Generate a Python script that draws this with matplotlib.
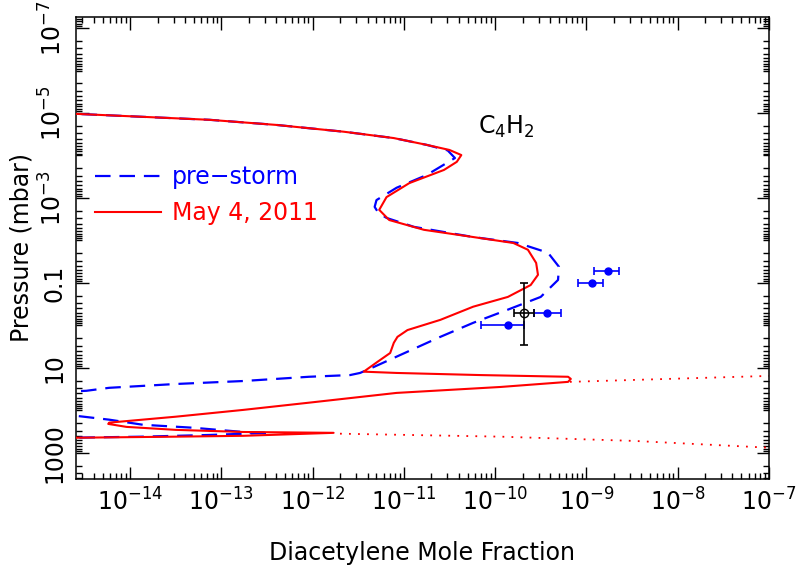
import numpy as np
import matplotlib
matplotlib.use("Agg")
import matplotlib.pyplot as plt
from matplotlib.ticker import LogLocator, NullFormatter, FixedLocator, FixedFormatter

RED, BLUE = "#ff0000", "#0000ff"

# ---- model profiles, log10(mole fraction) vs log10(pressure / mbar) ----------
may_logx = [-14.8, -13.86, -13.13, -12.40, -11.66, -11.11, -10.75, -10.50, -10.37, -10.42,
            -10.56, -10.94, -11.19, -11.27, -11.16, -10.78, -10.24, -9.80, -9.64, -9.55,
            -9.53, -9.61, -9.86, -10.24, -10.60, -10.96, -11.07, -11.11, -11.15, -11.29,
            -11.44, -11.08, -10.16, -9.20, -9.17, -9.20, -9.94, -11.08, -12.04, -12.76,
            -13.50, -14.23, -14.24, -14.04, -13.50, -12.76, -11.77, -12.76, -13.50, -14.8]
may_logp = [-5.00, -4.91, -4.84, -4.72, -4.56, -4.41, -4.25, -4.13, -4.01, -3.85,
            -3.66, -3.35, -3.02, -2.72, -2.48, -2.25, -2.08, -1.94, -1.78, -1.47,
            -1.19, -0.95, -0.67, -0.44, -0.13, 0.11, 0.27, 0.41, 0.65, 0.86,
            1.09, 1.12, 1.17, 1.21, 1.26, 1.33, 1.45, 1.59, 1.82, 1.99,
            2.15, 2.29, 2.32, 2.39, 2.46, 2.51, 2.53, 2.60, 2.62, 2.65]

pre_logx = [-14.8, -13.86, -13.13, -12.40, -11.66, -11.11, -10.75, -10.52, -10.44, -10.75,
            -11.08, -11.30, -11.32, -11.28, -11.19, -10.89, -10.24, -9.75, -9.42, -9.30,
            -9.31, -9.50, -9.86, -10.24, -10.60, -10.96, -11.33, -11.48, -11.59, -12.04,
            -12.76, -13.50, -14.23, -14.48, -15.3, -15.3, -14.59, -14.23, -13.86, -13.31,
            -12.76, -12.47, -13.13, -13.86, -14.8]
pre_logp = [-5.00, -4.91, -4.84, -4.72, -4.56, -4.41, -4.25, -4.12, -3.94, -3.54,
            -3.24, -2.95, -2.79, -2.65, -2.53, -2.32, -2.08, -1.94, -1.71, -1.38,
            -1.07, -0.67, -0.37, -0.06, 0.27, 0.62, 0.98, 1.12, 1.17, 1.21,
            1.31, 1.38, 1.47, 1.54, 1.62, 2.06, 2.13, 2.22, 2.34, 2.41,
            2.51, 2.53, 2.58, 2.62, 2.65]

# dotted extensions of the May 4 profile
ext1_logx = [-9.18, -8.10, -7.0]
ext1_logp = [1.33, 1.26, 1.19]
ext2_logx = [-11.70, -9.94, -8.48, -7.0]
ext2_logp = [2.55, 2.62, 2.72, 2.88]

# ---- retrievals ---------------------------------------------------------------
obs_x = np.array([1.72e-9, 1.15e-9, 3.68e-10, 1.37e-10])
obs_p = np.array([0.052, 0.10, 0.51, 1.0])
obs_xlo = np.array([1.21e-9, 8.1e-10, 2.65e-10, 6.95e-11])
obs_xhi = np.array([2.28e-9, 1.52e-9, 5.25e-10, 2.06e-10])

blk_x, blk_p = 2.1e-10, 0.5
blk_xlo, blk_xhi = 1.6e-10, 2.65e-10
blk_plo, blk_phi = 0.1, 2.9

ytick_vals = [1e-7, 1e-5, 1e-3, 0.1, 10, 1000]
ytick_labels = [r"$10^{-7}$", r"$10^{-5}$", r"$10^{-3}$", "0.1", "10", "1000"]
xtick_vals = [1e-14, 1e-13, 1e-12, 1e-11, 1e-10, 1e-9, 1e-8, 1e-7]
xtick_labels = [r"$10^{-14}$", r"$10^{-13}$", r"$10^{-12}$", r"$10^{-11}$",
                r"$10^{-10}$", r"$10^{-9}$", r"$10^{-8}$", r"$10^{-7}$"]

plt.rcParams.update({"font.family": "DejaVu Sans", "mathtext.fontset": "dejavusans"})
fig = plt.figure(figsize=(8, 5.68), dpi=100)
ax = fig.add_axes([0.095, 0.157, 0.866, 0.813])

ax.plot(10 ** np.array(pre_logx), 10 ** np.array(pre_logp), color=BLUE, lw=1.6,
        dashes=(7, 4), label="pre\u2212storm", zorder=3)
ax.plot(10 ** np.array(may_logx), 10 ** np.array(may_logp), color=RED, lw=1.5,
        label="May 4, 2011", zorder=4)
ax.plot(10 ** np.array(ext1_logx), 10 ** np.array(ext1_logp), color=RED, lw=1.3,
        linestyle=(0, (1, 4)))
ax.plot(10 ** np.array(ext2_logx), 10 ** np.array(ext2_logp), color=RED, lw=1.3,
        linestyle=(0, (1, 4)))

ax.errorbar(obs_x, obs_p, xerr=[obs_x - obs_xlo, obs_xhi - obs_x], fmt="o", color=BLUE,
            ms=5, elinewidth=1.2, capsize=3, capthick=1.2, zorder=5)
ax.errorbar([blk_x], [blk_p], xerr=[[blk_x - blk_xlo], [blk_xhi - blk_x]],
            yerr=[[blk_p - blk_plo], [blk_phi - blk_p]], fmt="o", mfc="none", mec="black",
            color="black", ms=6, elinewidth=1.2, capsize=3, capthick=1.2, zorder=6)

ax.set_xscale("log")
ax.set_yscale("log")
ax.set_xlim(2.55e-15, 1e-7)
ax.set_ylim(4.1e3, 5.5e-8)

ax.xaxis.set_major_locator(FixedLocator(xtick_vals))
ax.xaxis.set_major_formatter(FixedFormatter(xtick_labels))
ax.xaxis.set_minor_locator(LogLocator(base=10, subs=np.arange(2, 10), numticks=30))
ax.xaxis.set_minor_formatter(NullFormatter())
ax.set_yticks(ytick_vals, labels=ytick_labels)
# unlabelled decade ticks in between
ax.yaxis.set_minor_locator(LogLocator(base=10, subs=np.arange(1, 10), numticks=30))
ax.yaxis.set_minor_formatter(NullFormatter())

ax.tick_params(which="both", direction="in", top=True, right=True, width=1.0)
ax.tick_params(which="major", length=9, labelsize=17, pad=7)
ax.tick_params(which="minor", length=4.5)
plt.setp(ax.get_yticklabels(), rotation=90, va="center")
for s in ax.spines.values():
    s.set_linewidth(1.1)

ax.set_xlabel("Diacetylene Mole Fraction", fontsize=17, labelpad=18)
ax.set_ylabel("Pressure (mbar)", fontsize=17, labelpad=4)

ax.text(0.58, 0.747, r"C$_4$H$_2$", transform=ax.transAxes, fontsize=17, va="baseline")

leg = ax.legend(loc="upper left", bbox_to_anchor=(0.0, 0.72), frameon=False, fontsize=17,
                handlelength=2.8, handletextpad=0.45, labelspacing=0.5, borderaxespad=0.4)
for t, c in zip(leg.get_texts(), [BLUE, RED]):
    t.set_color(c)

fig.savefig("out.png", dpi=100)
